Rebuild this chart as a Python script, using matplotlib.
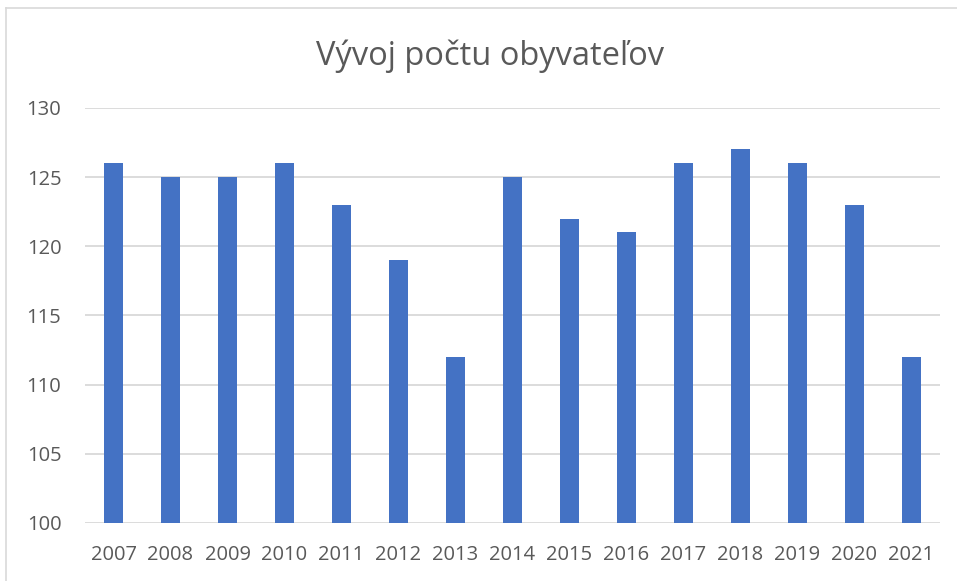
import matplotlib.pyplot as plt
from matplotlib.lines import Line2D

# data
roky = ["2007", "2008", "2009", "2010", "2011", "2012", "2013", "2014",
        "2015", "2016", "2017", "2018", "2019", "2020", "2021"]
obyvatelia = [126, 125, 125, 126, 123, 119, 112, 125, 122, 121, 126, 127, 126, 123, 112]
y_ticks = [100, 105, 110, 115, 120, 125, 130]

plt.rcParams['font.family'] = ['Open Sans', 'DejaVu Sans']

fig = plt.figure(figsize=(9.57, 5.81), dpi=100)
ax = fig.add_axes([85 / 957, 1 - 523 / 581, 855 / 957, 415 / 581])

x = range(len(roky))
ax.bar(x, [v - 100 for v in obyvatelia], bottom=100, width=0.32,
       color="#4472C4", zorder=3)

ax.set_xlim(-0.5, len(roky) - 0.5)
ax.set_ylim(100, 130)
ax.set_yticks(y_ticks)
ax.set_xticks(list(x))
ax.set_xticklabels(roky)
ax.tick_params(axis="both", length=0, labelsize=14.5, colors="#595959")
ax.tick_params(axis="x", pad=16)
ax.tick_params(axis="y", pad=17)
ax.grid(axis="y", color="#D9D9D9", linewidth=1.3, zorder=0)
for s in ax.spines.values():
    s.set_visible(False)

fig.text(490 / 957, 1 - 56 / 581, "Vývoj počtu obyvateľov", ha="center", va="center",
         fontsize=23.5, color="#595959")

# chart frame (cut off at right and bottom)
fig.add_artist(Line2D([5.5 / 957, 5.5 / 957], [0, 1 - 8 / 581], color="#D9D9D9", lw=1.2))
fig.add_artist(Line2D([5.5 / 957, 1], [1 - 8 / 581, 1 - 8 / 581], color="#D9D9D9", lw=1.2))

fig.savefig("out.png", dpi=100)
